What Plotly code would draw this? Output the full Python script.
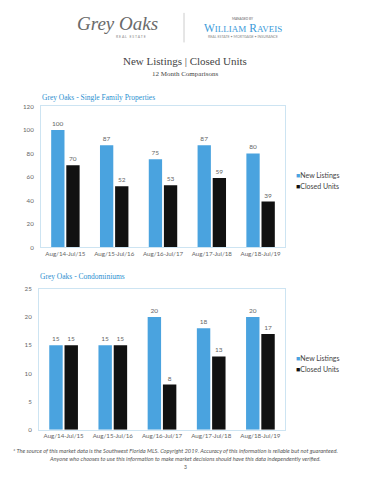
import plotly.graph_objects as go

W, H = 370, 480

periods = ["Aug/14-Jul/15", "Aug/15-Jul/16", "Aug/16-Jul/17", "Aug/17-Jul/18", "Aug/18-Jul/19"]
sf_new = [100, 87, 75, 87, 80]
sf_closed = [70, 52, 53, 59, 39]
condo_new = [15, 15, 20, 18, 20]
condo_closed = [15, 15, 8, 13, 17]
series_names = ["New Listings", "Closed Units"]

BLUE = "#4aa3df"
BLACK = "#111111"
FRAME = "#cde4f2"
TXT = "#666666"
FONT = "Lato"


def px(x):
    return x / W


def py(y):
    return 1 - y / H


fig = go.Figure()

for ax, (nv, cv) in enumerate([(sf_new, sf_closed), (condo_new, condo_closed)]):
    xa = "x" if ax == 0 else "x2"
    ya = "y" if ax == 0 else "y2"
    for vals, col, nm in [(nv, BLUE, series_names[0]), (cv, BLACK, series_names[1])]:
        fig.add_trace(go.Bar(x=periods, y=vals, name=nm, marker_color=col,
                             marker_line_width=0, text=vals, textposition="outside",
                             textfont=dict(size=6.5, color=TXT, family=FONT), cliponaxis=False,
                             xaxis=xa, yaxis=ya, showlegend=False))

axis_common = dict(showgrid=False, showline=True, linecolor=FRAME, linewidth=1, mirror=True,
                   tickfont=dict(size=6.2, color=TXT, family=FONT), ticks="", zeroline=False,
                   tickangle=0)

fig.update_layout(
    width=W, height=H, margin=dict(l=0, r=0, t=0, b=0),
    paper_bgcolor="white", plot_bgcolor="white",
    barmode="group", bargap=0.38, bargroupgap=0.12,
    font=dict(family=FONT, color=TXT),
    xaxis=dict(domain=[px(41), px(285)], anchor="y", **axis_common),
    yaxis=dict(domain=[py(247), py(104)], anchor="x", range=[0, 120], dtick=20,
               ticklabelstandoff=5, **axis_common),
    xaxis2=dict(domain=[px(39), px(285)], anchor="y2", **axis_common),
    yaxis2=dict(domain=[py(432), py(289)], anchor="x2", range=[0, 25], dtick=5,
                ticklabelstandoff=5, **axis_common),
)

ann = []


def A(text, x, y, size, color, family, xanchor="center", **kw):
    ann.append(dict(text=text, x=px(x), y=py(y), xref="paper", yref="paper", showarrow=False,
                    xanchor=xanchor, yanchor="middle", font=dict(size=size, color=color, family=family), **kw))


# legends
for ly in (174, 359):
    A(f"<span style='color:{BLUE}'>■</span>{series_names[0]}", 294, ly, 7, "#444", FONT, xanchor="left")
    A(f"<span style='color:{BLACK}'>■</span>{series_names[1]}", 294, ly + 11, 7, "#444", FONT, xanchor="left")

SERIF = "Liberation Serif"
A("New Listings | Closed Units", 185, 58, 11, "#444", SERIF)
A("12 Month Comparisons", 185, 71, 7, "#444", SERIF)
A("Grey Oaks - Single Family Properties", 40, 95, 7.5, "#2a8fd0", SERIF, xanchor="left")
A("Grey Oaks - Condominiums", 38, 277, 7.5, "#2a8fd0", SERIF, xanchor="left")

# logo
A("<i>Grey Oaks</i>", 117, 20, 19, "#6a6a6a", SERIF)
A("R E A L   E S T A T E", 131, 33, 3.5, "#888", FONT)
A("MANAGED BY", 243, 15, 3.2, "#666", FONT)
A("W<span style='font-size:9px'>ILLIAM</span> R<span style='font-size:9px'>AVEIS</span>", 243, 24, 11.5, "#3a9ad9", SERIF)
A("REAL ESTATE • MORTGAGE • INSURANCE", 243, 33, 3.6, "#888", FONT)

A("<i>* The source of this market data is the Southwest Florida MLS. Copyright 2019. Accuracy of this information is reliable but not guaranteed.</i>",
  175, 453, 5.7, "#555", FONT)
A("<i>Anyone who chooses to use this information to make market decisions should have this data independently verified.</i>",
  185, 461, 5.7, "#555", FONT)
A("3", 185, 470, 5, "#555", FONT)

fig.update_layout(annotations=ann,
                  shapes=[dict(type="line", xref="paper", yref="paper", x0=px(184), x1=px(184),
                               y0=py(9), y1=py(39), line=dict(color="#cccccc", width=1))])

fig.write_html("out.html", config={"displayModeBar": False})

# remove default page margin so the figure fills the 370x480 window exactly
with open("out.html", "r", encoding="utf-8") as f:
    html = f.read()
html = html.replace("<head>", "<head><style>html,body{margin:0;padding:0;overflow:hidden;}</style>", 1)
with open("out.html", "w", encoding="utf-8") as f:
    f.write(html)
